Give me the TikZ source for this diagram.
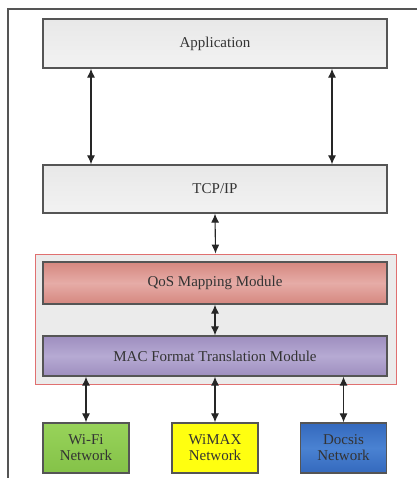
\documentclass[tikz,border=0pt]{standalone}
\usepackage{fontspec}
\setmainfont{Liberation Serif}
\usetikzlibrary{arrows.meta}

\definecolor{boxline}{HTML}{555555}
\definecolor{qosedge}{HTML}{D5877F}
\definecolor{qosmid}{HTML}{E6ACA7}
\definecolor{macedge}{HTML}{9E8EBF}
\definecolor{macmid}{HTML}{B6AAD3}
\definecolor{wifitop}{HTML}{98D35A}
\definecolor{wifibot}{HTML}{84C248}
\definecolor{wimaxyellow}{HTML}{FFFF10}
\definecolor{docsisedge}{HTML}{3469BD}
\definecolor{docsismid}{HTML}{4A82D2}
\definecolor{framered}{HTML}{E07070}

\tikzset{
    layer/.style={draw=boxline, line width=1.3pt, minimum width=344pt, inner sep=0pt,
        font=\fontsize{15}{17}\selectfont, text=black!80},
    netbox/.style={draw=boxline, line width=1.3pt, minimum width=86pt, minimum height=50pt,
        inner sep=0pt, align=center, font=\fontsize{15}{16}\selectfont, text=black!80},
    link/.style={{Latex[length=9pt,width=8pt]}-{Latex[length=9pt,width=8pt]}, line width=1.1pt, black!85}
}

\begin{document}
\begin{tikzpicture}[x=1pt,y=-1pt]
    \useasboundingbox (0,0) rectangle (417,478);

    % Outer border (only top and left visible)
    \draw[boxline, line width=1.2pt] (417,9) -- (8,9) -- (8,478);

    % Upper layers
    \node[layer, minimum height=49pt, top color=black!9, bottom color=black!5] (app) at (215,43.5) {Application};
    \node[layer, minimum height=48pt, top color=black!9, bottom color=black!5] (tcp) at (215,189) {TCP/IP};

    % Adaptation block
    \node[draw=framered, line width=0.9pt, fill=black!8, minimum width=361pt, minimum height=130pt] (adapt) at (215.5,319) {};
    \node[layer, minimum height=42pt, top color=qosedge, bottom color=qosedge, middle color=qosmid] (qos) at (215,283) {QoS Mapping Module};
    \node[layer, minimum height=40pt, top color=macedge, bottom color=macedge, middle color=macmid] (mac) at (215,356) {MAC Format Translation Module};

    % Access networks
    \node[netbox, top color=wifitop, bottom color=wifibot] (wifi) at (86,448) {Wi-Fi\\Network};
    \node[netbox, fill=wimaxyellow] (wimax) at (215,448) {WiMAX\\Network};
    \node[netbox, top color=docsisedge, bottom color=docsisedge, middle color=docsismid] (docsis) at (343.5,448) {Docsis\\Network};

    % Links
    \draw[link] ([xshift=-124pt]app.south) -- ([xshift=-124pt]tcp.north);
    \draw[link] ([xshift=117pt]app.south) -- ([xshift=117pt]tcp.north);
    \draw[link] (tcp.south) -- (adapt.north);
    \draw[link] (qos.south) -- (mac.north);
    \draw[link] (wifi.north |- mac.south) -- (wifi.north);
    \draw[link] (wimax.north |- mac.south) -- (wimax.north);
    \draw[link] (docsis.north |- mac.south) -- (docsis.north);

\end{tikzpicture}
\end{document}
